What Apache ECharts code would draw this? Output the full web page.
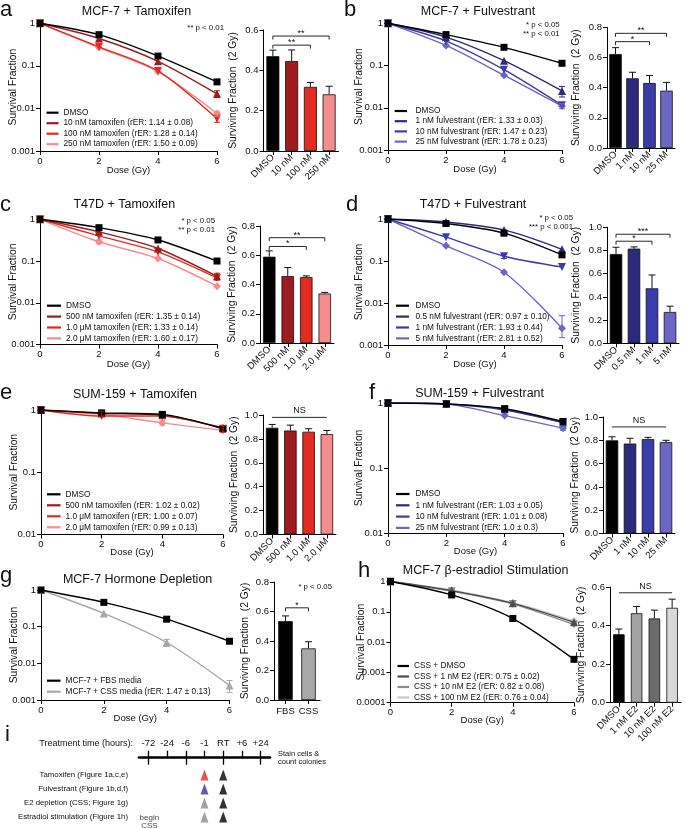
<!DOCTYPE html>
<html><head><meta charset="utf-8">
<script src="https://cdn.jsdelivr.net/npm/echarts@6/dist/echarts.min.js"></script>
<style>html,body{margin:0;padding:0;background:#fff}#c{width:686px;height:828px}</style>
</head><body><div id="c"></div>
<script>
// ---------------- DATA ----------------
const doses = [0, 2, 4, 6];

const aNames = ['DMSO','10 nM tamoxifen (rER: 1.14 ± 0.08)','100 nM tamoxifen (rER: 1.28 ± 0.14)','250 nM tamoxifen (rER: 1.50 ± 0.09)'];
const aSurv = [[1,0.54,0.17,0.042],[1,0.44,0.128,0.022],[1,0.28,0.076,0.0057],[1,0.27,0.073,0.0076]];
const aSurvErr = [[0,0,0,0],[0,0,0,0.004],[0,0,0,0.001],[0,0,0,0.001]];
const aCats = ['DMSO','10 nM','100 nM','250 nM'];
const aBar = [0.47,0.446,0.318,0.281];
const aBarErr = [0.03,0.055,0.022,0.04];
const aSig = [[0,2,0.525,'**'],[0,3,0.57,'**']];

const bNames = ['DMSO','1 nM fulvestrant (rER: 1.33 ± 0.03)','10 nM fulvestrant (rER: 1.47 ± 0.23)','25 nM fulvestrant (rER: 1.78 ± 0.23)'];
const bSurv = [[1,0.54,0.27,0.113],[1,0.47,0.13,0.025],[1,0.38,0.08,0.0115],[1,0.30,0.059,0.011]];
const bSurvErr = [[0,0,0,0],[0,0,0,0.007],[0,0,0,0],[0,0,0,0.0015]];
const bCats = ['DMSO','1 nM','10 nM','25 nM'];
const bBar = [0.623,0.462,0.431,0.38];
const bBarErr = [0.042,0.04,0.05,0.055];
const bSig = [[0,2,0.705,'*'],[0,3,0.76,'**']];

const cNames = ['DMSO','500 nM tamoxifen (rER: 1.35 ± 0.14)','1.0 μM tamoxifen (rER: 1.33 ± 0.14)','2.0 μM tamoxifen (rER: 1.60 ± 0.17)'];
const cSurv = [[1,0.63,0.32,0.1],[1,0.5,0.2,0.043],[1,0.4,0.165,0.039],[1,0.29,0.115,0.025]];
const cSurvErr = [[0,0,0,0],[0,0,0,0.008],[0,0,0,0],[0,0.03,0,0]];
const cCats = ['DMSO','500 nM','1.0 μM','2.0 μM'];
const cBar = [0.59,0.458,0.451,0.338];
const cBarErr = [0.04,0.058,0.008,0.008];
const cSig = [[0,2,0.66,'*'],[0,3,0.72,'**']];

const dNames = ['DMSO','0.5 nM fulvestrant (rER: 0.97 ± 0.10)','1 nM fulvestrant (rER: 1.93 ± 0.44)','5 nM fulvestrant (rER: 2.81 ± 0.52)'];
const dSurv = [[1,0.78,0.46,0.14],[1,0.85,0.55,0.19],[1,0.37,0.13,0.072],[1,0.23,0.054,0.0025]];
const dSurvErr = [[0,0,0,0],[0,0,0,0],[0,0,0.015,0],[0,0,0,0.0025]];
const dCats = ['DMSO','0.5 nM','1 nM','5 nM'];
const dBar = [0.77,0.816,0.474,0.27];
const dBarErr = [0.058,0.015,0.115,0.05];
const dSig = [[0,2,0.88,'*'],[0,3,0.94,'***']];

const eNames = ['DMSO','500 nM tamoxifen (rER: 1.02 ± 0.02)','1.0 μM tamoxifen (rER: 1.00 ± 0.07)','2.0 μM tamoxifen (rER: 0.99 ± 0.13)'];
const eSurv = [[1,0.9,0.85,0.5],[1,0.88,0.82,0.52],[1,0.8,0.8,0.5],[1,0.85,0.62,0.47]];
const eSurvErr = [[0,0.05,0.08,0.05],[0,0.08,0,0],[0,0,0,0.06],[0,0,0.05,0]];
const eCats = ['DMSO','500 nM','1.0 μM','2.0 μM'];
const eBar = [0.893,0.87,0.86,0.84];
const eBarErr = [0.028,0.045,0.025,0.03];
const eSig = [[0,3,0.98,'NS']];

const fNames = ['DMSO','1 nM fulvestrant (rER: 1.03 ± 0.05)','10 nM fulvestrant (rER: 1.01 ± 0.08)','25 nM fulvestrant (rER: 1.0 ± 0.3)'];
const fSurv = [[1,0.97,0.82,0.52],[1,0.97,0.8,0.5],[1,0.96,0.78,0.5],[1,0.96,0.64,0.41]];
const fSurvErr = [[0,0,0.04,0.03],[0,0,0,0],[0,0,0,0],[0,0,0,0.03]];
const fCats = ['DMSO','1 nM','10 nM','25 nM'];
const fBar = [0.8,0.772,0.81,0.785];
const fBarErr = [0.03,0.045,0.015,0.015];
const fSig = [[0,3,0.915,'NS']];

const gNames = ['MCF-7 + FBS media','MCF-7 + CSS media (rER: 1.47 ± 0.13)'];
const gSurv = [[1,0.46,0.16,0.04],[1,0.23,0.037,0.0025]];
const gSurvErr = [[0,0,0,0],[0,0,0.008,0.0009]];
const gCats = ['FBS','CSS'];
const gBar = [0.535,0.35];
const gBarErr = [0.035,0.045];
const gSig = [[0,1,0.625,'*']];

const hNames = ['CSS + DMSO','CSS + 1 nM E2 (rER: 0.75 ± 0.02)','CSS + 10 nM E2 (rER: 0.82 ± 0.08)','CSS + 100 nM E2 (rER: 0.76 ± 0.04)'];
const hSurv = [[1,0.36,0.06,0.0027],[1,0.5,0.19,0.045],[1,0.48,0.18,0.038],[1,0.52,0.2,0.05]];
const hSurvErr = [[0,0,0,0],[0,0,0,0],[0,0,0,0],[0,0,0,0]];
const hCats = ['DMSO','1 nM E2','10 nM E2','100 nM E2'];
const hBar = [0.355,0.464,0.437,0.492];
const hBarErr = [0.027,0.035,0.043,0.045];
const hSig = [[0,3,0.57,'NS']];

const timeLabels = ['-72','-24','-6','-1','RT','+6','+24'];
const treatRows = ['Tamoxifen (Figure 1a,c,e)','Fulvestrant (Figure 1b,d,f)','E2 depletion (CSS; Figure 1g)','Estradiol stimulation (Figure 1h)'];
const drugTime = '-1', rtTime = 'RT', cssTime = '-72';

// ---------------- STYLE ----------------
const FONT = "'Liberation Sans', Arial, Helvetica, sans-serif";
const tamColors = ['#000000','#9e1b1f','#e22b21','#f58c8e'];
const fulColors = ['#000000','#2c2a7c','#3b3cab','#6d66c6'];
const gColors = ['#000000','#a8a8a8'];
const hLineColors = ['#000000','#4d4d4d','#8c8c8c','#c9c9c9'];
const hBarColors = ['#000000','#a3a3a3','#6b6b6b','#d9d9d9'];
const sym4 = ['rect','triangle','triangle-down','diamond'];

const grids=[], xAxes=[], yAxes=[], series=[], legends=[], graphics=[];

function axisBase(){
  return {
    nameMoveOverlap:false,
    axisLine:{show:true,onZero:false,lineStyle:{color:'#000',width:1}},
    axisTick:{show:true,length:4,lineStyle:{color:'#000',width:1}},
    axisLabel:{color:'#111',fontSize:9.5,fontFamily:FONT,margin:5},
    splitLine:{show:false},
    nameTextStyle:{color:'#111',fontSize:10.3,fontFamily:FONT}
  };
}

function survPanel(p){
  const gi = grids.length;
  grids.push({left:p.rect[0],top:p.rect[1],width:p.rect[2],height:p.rect[3]});
  xAxes.push(Object.assign(axisBase(),{gridIndex:gi,type:'value',min:0,max:6,interval:2,
    name:'Dose (Gy)',nameLocation:'middle',nameGap:p.xGap,
    nameTextStyle:{color:'#111',fontSize:9.5,fontFamily:FONT}}));
  const ya = Object.assign(axisBase(),{gridIndex:gi,type:'log',logBase:10,min:p.min,max:1,
    name:'Survival Fraction',nameLocation:'middle',nameGap:p.yGap});
  ya.axisLabel.formatter = v => String(parseFloat(Number(v).toPrecision(2)));
  ya.axisLabel.showMinLabel = true; ya.axisLabel.showMaxLabel = true;
  ya.minorTick = {show:false};
  yAxes.push(ya);
  const errData = [];
  p.vals.forEach((v,k)=>{
    const c = p.colors[k];
    const s = p.symbols[k];
    series.push({type:'line',name:p.names[k],xAxisIndex:gi,yAxisIndex:gi,
      data:doses.map((d,j)=>[d,v[j]]),smooth:0.28,
      symbol:s==='triangle-down'?'triangle':s,symbolRotate:s==='triangle-down'?180:0,
      symbolSize:s==='rect'?7:8,color:c,lineStyle:{width:1.4,color:c},itemStyle:{color:c},
      emphasis:{disabled:true},z:10-k});
    p.errs[k].forEach((e,j)=>{ if(e>0) errData.push([doses[j],v[j],e,k]); });
  });
  if(errData.length){
    series.push({type:'custom',xAxisIndex:gi,yAxisIndex:gi,data:errData,encode:{x:0,y:1},z:12,
      renderItem:(params,api)=>{
        const x=api.value(0), y=api.value(1), e=api.value(2), k=api.value(3);
        const hi=api.coord([x,y+e]); const lo=api.coord([x,Math.max(y-e,y*0.6)]);
        const col=p.colors[k];
        return {type:'group',children:[
          {type:'line',shape:{x1:hi[0],y1:hi[1],x2:lo[0],y2:lo[1]},style:{stroke:col,lineWidth:1}},
          {type:'line',shape:{x1:hi[0]-3,y1:hi[1],x2:hi[0]+3,y2:hi[1]},style:{stroke:col,lineWidth:1}},
          {type:'line',shape:{x1:lo[0]-3,y1:lo[1],x2:lo[0]+3,y2:lo[1]},style:{stroke:col,lineWidth:1}}]};
      }});
  }
  legends.push({data:p.names,orient:'vertical',left:p.leg[0],top:p.leg[1],itemWidth:p.legW,itemHeight:2.2,
    itemGap:p.legGap,icon:'rect',selectedMode:false,padding:0,
    textStyle:{fontSize:8.3,fontFamily:FONT,color:'#111',lineHeight:10,padding:[0,0,0,p.legPad]}});
}

function barPanel(p){
  const gi = grids.length;
  grids.push({left:p.rect[0],top:p.rect[1],width:p.rect[2],height:p.rect[3]});
  const xa = Object.assign(axisBase(),{gridIndex:gi,type:'category',data:p.cats});
  xa.axisTick.alignWithLabel = true;
  xa.axisLabel = {color:'#111',fontSize:9.5,fontFamily:FONT,interval:0,rotate:p.rotate,margin:p.rotate?5:6};
  xAxes.push(xa);
  const ya = Object.assign(axisBase(),{gridIndex:gi,type:'value',min:0,max:p.max,interval:0.2,
    name:'Surviving Fraction  (2 Gy)',nameLocation:'middle',nameGap:p.yGap});
  ya.axisLabel.formatter = v => v.toFixed(1);
  yAxes.push(ya);
  series.push({type:'bar',xAxisIndex:gi,yAxisIndex:gi,barWidth:p.bw,
    data:p.vals.map((v,i)=>({value:v,itemStyle:{color:p.colors[i]}})),
    itemStyle:{borderColor:'#111',borderWidth:0.8},emphasis:{disabled:true},z:5});
  series.push({type:'custom',xAxisIndex:gi,yAxisIndex:gi,data:p.vals.map((v,i)=>[i,v,p.errs[i]]),
    encode:{x:0,y:1},z:6,
    renderItem:(params,api)=>{
      const i=api.value(0), v=api.value(1), e=api.value(2);
      const a=api.coord([i,v]), b=api.coord([i,v+e]);
      return {type:'group',children:[
        {type:'line',shape:{x1:a[0],y1:a[1],x2:b[0],y2:b[1]},style:{stroke:'#111',lineWidth:1}},
        {type:'line',shape:{x1:b[0]-3.5,y1:b[1],x2:b[0]+3.5,y2:b[1]},style:{stroke:'#111',lineWidth:1}}]};
    }});
  series.push({type:'custom',xAxisIndex:gi,yAxisIndex:gi,data:p.sig.map(s=>[s[0],s[2]]),
    encode:{x:0,y:1},z:7,
    renderItem:(params,api)=>{
      const s=p.sig[params.dataIndex];
      const a=api.coord([s[0],s[2]]), b=api.coord([s[1],s[2]]);
      const ns = s[3]==='NS';
      const pts = ns?[[a[0],a[1]],[b[0],b[1]]]:[[a[0],a[1]+3.5],[a[0],a[1]],[b[0],b[1]],[b[0],b[1]+3.5]];
      return {type:'group',children:[
        {type:'polyline',shape:{points:pts},style:{stroke:'#111',lineWidth:0.9,fill:null}},
        {type:'text',style:{text:s[3],x:(a[0]+b[0])/2,y:ns?a[1]-2:a[1]+2,align:'center',verticalAlign:'bottom',
          fontSize:9,fontFamily:FONT,fill:'#111'}}]};
    }});
}

// survival panels
survPanel({rect:[40,23.3,177,127.7],min:0.001,names:aNames,vals:aSurv,errs:aSurvErr,colors:tamColors,symbols:sym4,leg:[46.5,107.7],legW:12,legGap:0.5,legPad:0,yGap:22,xGap:14});
survPanel({rect:[388,23.3,174,126.7],min:0.001,names:bNames,vals:bSurv,errs:bSurvErr,colors:fulColors,symbols:sym4,leg:[394.7,106],legW:12.3,legGap:0.2,legPad:3.5,yGap:24,xGap:14});
survPanel({rect:[40,219.3,177,125.2],min:0.001,names:cNames,vals:cSurv,errs:cSurvErr,colors:tamColors,symbols:sym4,leg:[47,300.7],legW:14,legGap:0.9,legPad:0,yGap:22,xGap:15});
survPanel({rect:[388,219,174,126],min:0.001,names:dNames,vals:dSurv,errs:dSurvErr,colors:fulColors,symbols:sym4,leg:[396,300.7],legW:13,legGap:0.9,legPad:1.5,yGap:24,xGap:14});
survPanel({rect:[41,410,182,124.5],min:0.01,names:eNames,vals:eSurv,errs:eSurvErr,colors:tamColors,symbols:sym4,leg:[47,489.3],legW:13.5,legGap:1,legPad:0,yGap:22,xGap:13});
survPanel({rect:[388,403,175,130],min:0.01,names:fNames,vals:fSurv,errs:fSurvErr,colors:fulColors,symbols:sym4,leg:[396,489],legW:13.5,legGap:1.3,legPad:1,yGap:24,xGap:13});
survPanel({rect:[41,590,188.5,110],min:0.001,names:gNames,vals:gSurv,errs:gSurvErr,colors:gColors,symbols:['rect','triangle'],leg:[47,675.7],legW:13.5,legGap:1,legPad:0,yGap:22,xGap:13});
survPanel({rect:[390.5,581.5,183.5,121.2],min:0.0001,names:hNames,vals:hSurv,errs:hSurvErr,colors:hLineColors,symbols:sym4,leg:[397.5,661],legW:11.5,legGap:0.5,legPad:0,yGap:24,xGap:13});

// bar panels
barPanel({rect:[263.5,30,75,121],max:0.6,cats:aCats,vals:aBar,errs:aBarErr,sig:aSig,colors:tamColors,bw:13,rotate:45,yGap:25});
barPanel({rect:[607,27.3,68,120.7],max:0.8,cats:bCats,vals:bBar,errs:bBarErr,sig:bSig,colors:fulColors,bw:12.5,rotate:45,yGap:26});
barPanel({rect:[260,226,74,117],max:0.8,cats:cCats,vals:cBar,errs:cBarErr,sig:cSig,colors:tamColors,bw:12.5,rotate:45,yGap:23});
barPanel({rect:[607,227.3,72,116],max:1.0,cats:dCats,vals:dBar,errs:dBarErr,sig:dSig,colors:fulColors,bw:12.5,rotate:45,yGap:26});
barPanel({rect:[263,415,73,119.5],max:1.0,cats:eCats,vals:eBar,errs:eBarErr,sig:eSig,colors:tamColors,bw:12.5,rotate:45,yGap:24});
barPanel({rect:[603,417,72,116.5],max:1.0,cats:fCats,vals:fBar,errs:fBarErr,sig:fSig,colors:fulColors,bw:12.5,rotate:45,yGap:23});
barPanel({rect:[274,582,46,118],max:0.8,cats:gCats,vals:gBar,errs:gBarErr,sig:gSig,colors:gColors,bw:14.5,rotate:0,yGap:24});
barPanel({rect:[610,587,71,115.7],max:0.6,cats:hCats,vals:hBar,errs:hBarErr,sig:hSig,colors:hBarColors,bw:11.5,rotate:45,yGap:24});

// panel i : treatment timeline
const gi = grids.length;
grids.push({left:139,top:768,width:131,height:56});
xAxes.push({gridIndex:gi,type:'category',data:timeLabels,position:'top',offset:10.3,nameMoveOverlap:false,
  axisLine:{show:true,lineStyle:{color:'#000',width:2.7}},
  axisTick:{show:true,alignWithLabel:true,length:7,lineStyle:{color:'#000',width:1.3}},
  axisLabel:{show:true,interval:0,color:'#111',fontSize:9.5,fontFamily:FONT,margin:9},
  splitLine:{show:false},
  name:'Stain cells &\ncount colonies',nameLocation:'end',nameGap:8,
  nameTextStyle:{fontSize:7.5,lineHeight:7.5,fontFamily:FONT,color:'#111',align:'left'}});
xAxes.push({gridIndex:gi,type:'category',data:timeLabels,position:'top',offset:10.3,
  axisLine:{show:false},axisTick:{show:true,inside:true,alignWithLabel:true,length:7,lineStyle:{color:'#000',width:1.3}},
  axisLabel:{show:false},splitLine:{show:false}});
yAxes.push({gridIndex:gi,type:'category',data:treatRows,inverse:true,
  axisLine:{show:false},axisTick:{show:false},splitLine:{show:false},
  axisLabel:{interval:0,color:'#111',fontSize:7.8,fontFamily:FONT,margin:11}});
const drugColors = ['#e3261f','#3a35a0','#8c8c8c','#8c8c8c'];
series.push({type:'scatter',xAxisIndex:xAxes.length-2,yAxisIndex:yAxes.length-1,symbol:'triangle',symbolSize:[8,11],
  data:treatRows.map((r,i)=>({value:[drugTime,r],itemStyle:{color:drugColors[i]}})),emphasis:{disabled:true}});
series.push({type:'scatter',xAxisIndex:xAxes.length-2,yAxisIndex:yAxes.length-1,symbol:'triangle',symbolSize:[8,11],
  data:treatRows.map(r=>[rtTime,r]),itemStyle:{color:'#000'},emphasis:{disabled:true}});
series.push({type:'scatter',xAxisIndex:xAxes.length-2,yAxisIndex:yAxes.length-1,symbolSize:0,
  data:[[cssTime,treatRows[3]]],
  label:{show:true,position:'inside',offset:[1,5],formatter:'begin\nCSS',fontSize:8,lineHeight:8,fontFamily:FONT,color:'#111'}});

// ---------------- TEXT ----------------
function txt(text,x,y,size,align){
  graphics.push({type:'text',x:x,y:y,silent:true,style:{text:text,fontSize:size,fontFamily:FONT,fill:'#111',align:align,verticalAlign:'middle'}});
}
[['a',0,10],['b',344,10],['c',0,205],['d',346,205],['e',0,393],['f',369,393],['g',0,576],['h',358,571],['i',5,735]]
  .forEach(t=>txt(t[0],t[1],t[2],22,'left'));
[['MCF-7 + Tamoxifen',136.5,11.7],['MCF-7 + Fulvestrant',478,11.7],['T47D + Tamoxifen',124.3,205],
 ['T47D + Fulvestrant',473,204.3],['SUM-159 + Tamoxifen',135,394.3],['SUM-159 + Fulvestrant',479.6,393.3],
 ['MCF-7 Hormone Depletion',137.6,580],['MCF-7 β-estradiol Stimulation',485.6,570.7]]
  .forEach(t=>txt(t[0],t[1],t[2],12.5,'center'));
[['** p < 0.01',224,28.3],['* p < 0.05',559.7,25],['** p < 0.01',559.7,34],['* p < 0.05',215,221],
 ['** p < 0.01',215,230],['* p < 0.05',573,218.3],['*** p < 0.001',573,227.3],['* p < 0.05',332,586.7]]
  .forEach(t=>txt(t[0],t[1],t[2],7.8,'right'));
txt('Treatment time (hours):',133,743.3,9,'right');

const chart = echarts.init(document.getElementById('c'));
chart.setOption({animation:false,backgroundColor:'#fff',grid:grids,xAxis:xAxes,yAxis:yAxes,series:series,legend:legends,graphic:graphics});
</script></body></html>
